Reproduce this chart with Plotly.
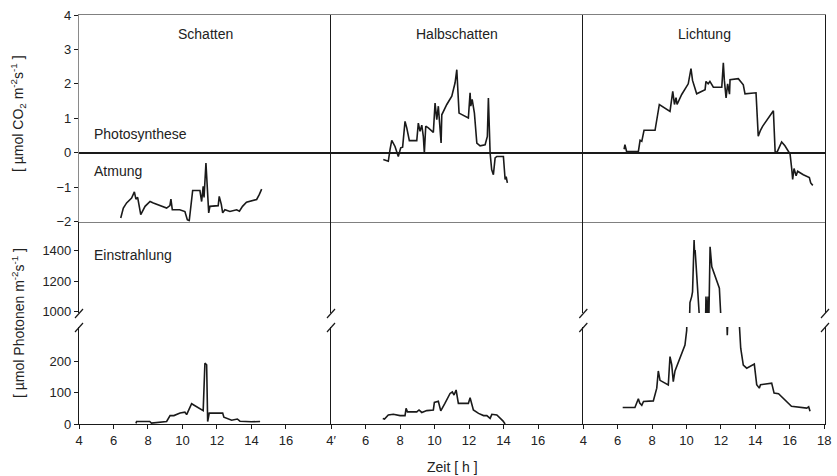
import plotly.graph_objects as go
from plotly.subplots import make_subplots

# --- CO2 gas exchange [µmol CO2 m-2 s-1] -------------------------------------
schatten_co2_t = [6.42, 6.57, 6.76, 7.05, 7.21, 7.30, 7.40, 7.58, 7.83, 8.12, 8.31, 8.79, 9.08,
                  9.27, 9.33, 9.41, 9.84, 10.14, 10.28, 10.39, 10.53, 10.59, 11.01, 11.11, 11.20,
                  11.25, 11.36, 11.44, 11.52, 11.59, 12.07, 12.13, 12.25, 12.33, 12.46, 12.75,
                  13.14, 13.30, 13.48, 13.71, 14.10, 14.30, 14.45, 14.59]
schatten_co2 = [-1.90, -1.61, -1.46, -1.32, -1.14, -1.35, -1.30, -1.80, -1.56, -1.42, -1.46, -1.56,
                -1.61, -1.54, -1.35, -1.66, -1.66, -1.71, -1.95, -1.98, -1.37, -1.10, -1.10, -1.42,
                -0.98, -1.30, -0.30, -0.88, -1.75, -1.56, -1.54, -1.27, -1.50, -1.75, -1.66, -1.71,
                -1.66, -1.70, -1.56, -1.44, -1.39, -1.36, -1.22, -1.06]

halb_co2_t = [7.03, 7.32, 7.42, 7.52, 7.71, 7.90, 8.04, 8.15, 8.29, 8.39, 8.54, 8.97, 9.06, 9.16,
              9.26, 9.35, 9.41, 9.49, 9.64, 9.93, 10.03, 10.13, 10.22, 10.27, 10.38, 10.42, 10.71,
              11.00, 11.19, 11.29, 11.42, 11.96, 12.06, 12.10, 12.18, 12.31, 12.45, 12.64, 12.93,
              13.06, 13.12, 13.22, 13.31, 13.41, 13.51, 13.61, 13.99, 14.09, 14.15, 14.22]
halb_co2 = [-0.20, -0.25, 0.09, 0.36, 0.18, -0.11, 0.14, 0.16, 0.91, 0.72, 0.35, 0.35, 0.86, 0.62,
            0.80, 0.47, -0.01, 0.77, 0.72, 0.59, 1.44, 0.96, 1.35, 0.99, 0.28, 1.10, 1.40, 1.64,
            2.03, 2.41, 1.15, 1.01, 1.74, 1.35, 1.55, 1.15, 0.28, 0.20, 0.23, 0.47, 1.59, -0.01,
            -0.49, -0.64, -0.15, -0.11, -0.11, -0.78, -0.70, -0.88]

licht_co2_t = [6.37, 6.42, 6.52, 7.20, 7.30, 7.40, 7.53, 8.17, 8.42, 8.75, 9.04, 9.20, 9.30, 9.39,
               9.45, 9.72, 10.01, 10.10, 10.26, 10.35, 10.59, 11.08, 11.13, 11.26, 11.36, 11.56,
               12.05, 12.14, 12.20, 12.30, 12.39, 12.50, 12.53, 13.01, 13.30, 13.40, 14.04, 14.17,
               14.30, 14.43, 15.05, 15.15, 15.25, 15.53, 15.72, 16.02, 16.12, 16.17, 16.25, 16.37,
               16.46, 16.79, 17.14, 17.22, 17.34]
licht_co2 = [0.10, 0.23, 0.03, 0.03, 0.36, 0.33, 0.65, 0.65, 1.40, 1.30, 1.20, 1.78, 1.40, 1.60,
             1.40, 1.69, 1.93, 2.00, 2.44, 2.10, 1.71, 1.83, 2.07, 2.00, 2.07, 1.90, 1.90, 2.61,
             2.10, 1.59, 2.00, 1.70, 2.12, 2.15, 1.97, 1.71, 1.74, 0.48, 0.65, 0.77, 1.22, 0.04,
             0.00, 0.31, 0.20, -0.04, -0.49, -0.78, -0.46, -0.67, -0.54, -0.64, -0.72, -0.88, -0.95]

# --- Irradiance [µmol photons m-2 s-1] ---------------------------------------
schatten_par_t = [7.30, 7.34, 8.10, 8.20, 9.08, 9.28, 9.50, 9.86, 10.14, 10.24, 10.53, 11.11, 11.20,
                  11.30, 11.40, 11.46, 11.55, 12.33, 12.40, 12.85, 13.18, 13.33, 14.00, 14.50]
schatten_par = [2, 8, 8, 3, 8, 27, 27, 35, 38, 30, 65, 46, 43, 195, 190, 8, 35, 35, 22, 12, 16, 9,
                7, 8]

halb_par_t = [7.00, 7.10, 7.32, 7.61, 8.00, 8.29, 8.35, 8.43, 8.97, 9.10, 9.26, 9.55, 9.93, 9.99,
              10.22, 10.36, 10.60, 10.90, 11.03, 11.13, 11.25, 11.38, 11.96, 12.06, 12.25, 12.55,
              12.84, 13.03, 13.22, 13.32, 13.61, 13.80, 13.96, 14.09]
halb_par = [18, 16, 29, 31, 27, 27, 50, 39, 39, 45, 37, 43, 45, 69, 73, 42, 66, 98, 103, 93, 109,
            66, 66, 84, 45, 34, 27, 27, 18, 31, 29, 20, 10, 0]

licht_par_t = [6.29, 7.00, 7.20, 7.28, 7.40, 7.50, 8.07, 8.27, 8.36, 8.46, 8.94, 9.04, 9.14, 9.23,
               9.33, 9.91, 10.01, 10.10, 10.20, 10.30, 10.35, 10.44, 10.47, 10.50, 10.55, 10.73,
               10.90, 11.10, 11.13, 11.20, 11.25, 11.30, 11.37, 11.47, 11.91, 12.00, 12.20, 12.37,
               12.40, 12.70, 13.07, 13.15, 13.30, 13.50, 13.94, 14.08, 14.23, 14.30, 14.95, 15.09,
               15.35, 15.63, 16.02, 16.10, 16.99, 17.10, 17.18]
licht_par = [53, 53, 81, 67, 60, 72, 74, 115, 170, 140, 125, 216, 190, 136, 170, 253, 300, 640,
             1060, 1099, 1130, 1465, 1380, 1400, 1314, 960, 700, 900, 1099, 960, 1100, 960, 1421,
             1292, 1153, 960, 620, 285, 500, 800, 320, 243, 189, 179, 192, 126, 115, 126, 131, 99,
             97, 83, 62, 57, 51, 55, 41]

site_names = ["Schatten", "Halbschatten", "Lichtung"]
co2_series = [(schatten_co2_t, schatten_co2), (halb_co2_t, halb_co2), (licht_co2_t, licht_co2)]
par_series = [(schatten_par_t, schatten_par), (halb_par_t, halb_par), (licht_par_t, licht_par)]

x_ranges = [[4, 18.61], [4, 18.62], [4, 18.05]]
x_tickvals = [[4, 6, 8, 10, 12, 14, 16], [4, 6, 8, 10, 12, 14, 16], [4, 6, 8, 10, 12, 14, 16, 18]]
x_ticktext = [["4", "6", "8", "10", "12", "14", "16"],
              ["4\u2032", "6", "8", "10", "12", "14", "16"],
              ["4", "6", "8", "10", "12", "14", "16", "18"]]

co2_range = [-2, 4]
co2_ticks = [-2, -1, 0, 1, 2, 3, 4]
par_hi_range = [993, 1585]
par_hi_ticks = [1000, 1200, 1400]
par_lo_range = [0, 311]
par_lo_ticks = [0, 100, 200]

# --- layout geometry (pixels of an 837 x 476 page) -----------------------------
W, H = 837, 476
ML, MR, MT, MB = 79, 12, 15, 52
PW, PH = W - ML - MR, H - MT - MB

def px_x(px):
    return (px - ML) / PW

def px_y(py):
    return (H - MB - py) / PH

col_edges_px = [79, 331, 583.3, 825]
col_dom = [[px_x(col_edges_px[i]), px_x(col_edges_px[i + 1])] for i in range(3)]
col_dom[2][1] = 1.0
row_dom = {
    1: [px_y(221.5), 1.0],
    2: [px_y(313), px_y(221.5)],
    3: [0.0, px_y(327)],
}

FONT = "Arial, Liberation Sans, Helvetica, sans-serif"
INK = "#1a1a1a"

fig = make_subplots(rows=3, cols=3, horizontal_spacing=0, vertical_spacing=0)

for c in range(3):
    t, v = co2_series[c]
    fig.add_trace(go.Scatter(x=t, y=v, mode="lines", line=dict(color=INK, width=1.6),
                             showlegend=False, hoverinfo="skip"), row=1, col=c + 1)
    t, v = par_series[c]
    for r in (2, 3):
        fig.add_trace(go.Scatter(x=t, y=v, mode="lines", line=dict(color=INK, width=1.6),
                                 showlegend=False, hoverinfo="skip"), row=r, col=c + 1)

tickfont = dict(family=FONT, size=13, color="#222")

for r in (1, 2, 3):
    for c in range(3):
        idx = (r - 1) * 3 + c + 1
        xa = "xaxis" if idx == 1 else f"xaxis{idx}"
        ya = "yaxis" if idx == 1 else f"yaxis{idx}"
        xcfg = dict(domain=col_dom[c], range=x_ranges[c], showgrid=False, zeroline=False,
                    fixedrange=True)
        ycfg = dict(domain=row_dom[r], showgrid=False, fixedrange=True,
                    showline=True, linecolor=INK, linewidth=1.2,
                    mirror=(c == 2))
        if r == 1:
            xcfg.update(showline=True, mirror=True, linecolor="#808080", linewidth=1.2,
                        showticklabels=False, ticks="")
            ycfg.update(range=co2_range, zeroline=True, zerolinecolor=INK, zerolinewidth=1.8)
            if c == 0:
                ycfg.update(linecolor="#8a8a8a", tickvals=co2_ticks, ticks="outside",
                            ticklen=4, tickcolor=INK, tickfont=tickfont)
            else:
                ycfg.update(showticklabels=False, ticks="")
        elif r == 2:
            xcfg.update(showline=False, showticklabels=False, ticks="")
            ycfg.update(range=par_hi_range, zeroline=False)
            if c == 0:
                ycfg.update(tickvals=par_hi_ticks, ticks="outside", ticklen=4,
                            tickcolor=INK, tickfont=tickfont)
            else:
                ycfg.update(showticklabels=False, ticks="")
        else:
            xcfg.update(showline=True, linecolor=INK, linewidth=1.2, ticks="outside",
                        ticklen=4, tickcolor=INK, tickvals=x_tickvals[c],
                        ticktext=x_ticktext[c], tickfont=tickfont)
            ycfg.update(range=par_lo_range, zeroline=False)
            if c == 0:
                ycfg.update(tickvals=par_lo_ticks, ticks="outside", ticklen=4,
                            tickcolor=INK, tickfont=tickfont)
            else:
                ycfg.update(showticklabels=False, ticks="")
        fig.layout[xa].update(xcfg)
        fig.layout[ya].update(ycfg)

# axis-break slashes at every vertical frame line
shapes = []
for xp in col_edges_px:
    for yc in (313.5, 327.5):
        shapes.append(dict(type="line", xref="paper", yref="paper",
                           x0=px_x(xp - 4), y0=px_y(yc + 4.5),
                           x1=px_x(xp + 4), y1=px_y(yc - 4.5),
                           line=dict(color=INK, width=1.2)))

labfont = dict(family=FONT, size=14, color="#222")
annotations = []
for c, name in enumerate(site_names):
    annotations.append(dict(text=name, xref="paper", yref="paper",
                            x=(col_dom[c][0] + col_dom[c][1]) / 2, y=px_y(34),
                            showarrow=False, font=labfont, xanchor="center", yanchor="middle"))

for txt, ypx in (("Photosynthese", 134), ("Atmung", 171), ("Einstrahlung", 255)):
    annotations.append(dict(text=txt, xref="paper", yref="paper", x=px_x(92), y=px_y(ypx),
                            showarrow=False, font=labfont, xanchor="left", yanchor="middle"))

annotations.append(dict(text="Zeit [ h ]", xref="paper", yref="paper", x=px_x(452),
                        y=px_y(467), showarrow=False, font=labfont,
                        xanchor="center", yanchor="middle"))
annotations.append(dict(text="[ µmol CO<sub>2</sub> m<sup>-2</sup>s<sup>-1</sup> ]",
                        xref="paper", yref="paper", x=px_x(18), y=px_y(114), textangle=-90,
                        showarrow=False, font=labfont, xanchor="center", yanchor="middle"))
annotations.append(dict(text="[ µmol Photonen m<sup>-2</sup>s<sup>-1</sup> ]",
                        xref="paper", yref="paper", x=px_x(18), y=px_y(323), textangle=-90,
                        showarrow=False, font=labfont, xanchor="center", yanchor="middle"))

fig.update_layout(width=W, height=H, margin=dict(l=ML, r=MR, t=MT, b=MB, autoexpand=False),
                  paper_bgcolor="white", plot_bgcolor="white", showlegend=False,
                  shapes=shapes, annotations=annotations, font=dict(family=FONT))

fig.write_html("out.html", config={"displayModeBar": False})
